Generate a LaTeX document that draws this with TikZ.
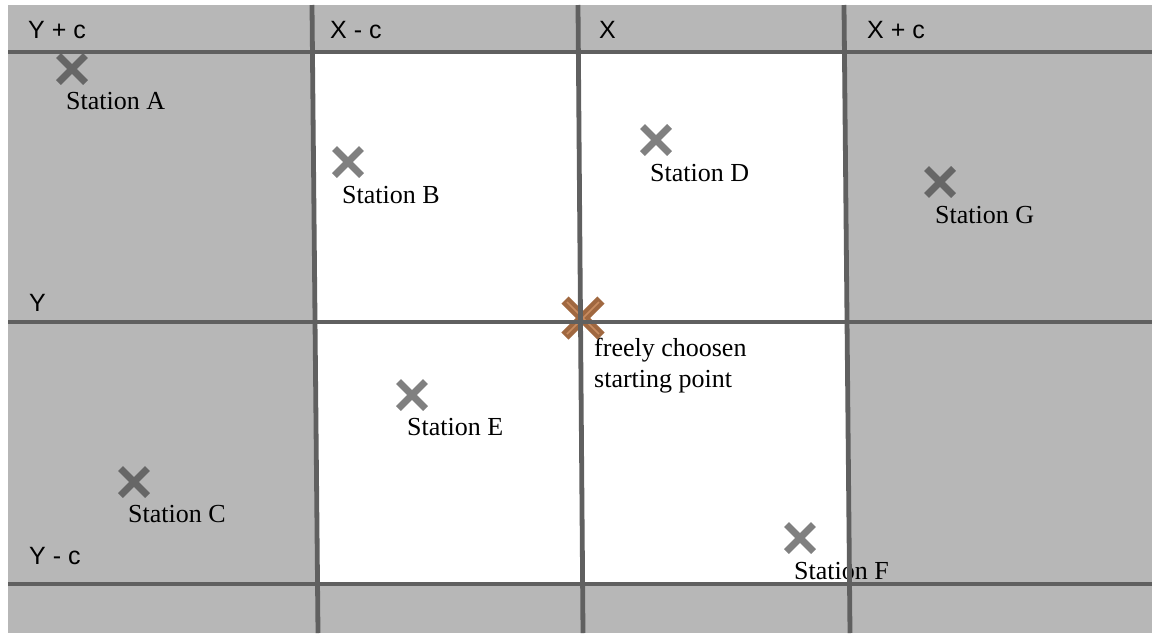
\documentclass[tikz,border=0pt]{standalone}
\usepackage{fontspec}
\setmainfont{Liberation Serif}
\newfontfamily\hdrfont{Liberation Sans}
\begin{document}
\begin{tikzpicture}[x=1pt,y=-1pt,
  cellgray/.style={fill={rgb,255:red,183;green,183;blue,183}},
  gridline/.style={draw={rgb,255:red,96;green,96;blue,96},line width=4.8pt},
  stationx/.style={draw={rgb,255:red,128;green,128;blue,128},line width=7pt},
  stationxg/.style={draw={rgb,255:red,102;green,102;blue,102},line width=7pt},
  startx/.style={draw={rgb,255:red,160;green,104;blue,64},line width=10pt},
  startxin/.style={draw={rgb,255:red,200;green,140;blue,96},line width=1.5pt},
  stlabel/.style={anchor=base west,inner sep=0pt,font=\fontsize{26}{31}\selectfont},
  hdr/.style={anchor=base west,inner sep=0pt,font=\hdrfont\fontsize{25}{30}\selectfont}]
\useasboundingbox (0,0) rectangle (1152,633);
\fill[white] (0,0) rectangle (1152,633);
\fill[cellgray] (8,5) rectangle (1152,633);
% white middle region
\fill[white] (312.7,52) -- (844.3,52) -- (849.2,584) -- (317.2,584) -- cycle;
% station crosses on white
\foreach \n/\cx/\cy in {B/348/162, D/656/140, E/412/395, F/800/538}{
  \draw[stationx] (\cx-13.5,\cy-13.5) -- (\cx+13.5,\cy+13.5);
  \draw[stationx] (\cx-13.5,\cy+13.5) -- (\cx+13.5,\cy-13.5);
}
% station crosses on grey
\foreach \n/\cx/\cy in {A/72/69, G/940/182, C/134/482}{
  \draw[stationxg] (\cx-13.5,\cy-13.5) -- (\cx+13.5,\cy+13.5);
  \draw[stationxg] (\cx-13.5,\cy+13.5) -- (\cx+13.5,\cy-13.5);
}
% starting point cross
\draw[startx] (565,300) -- (601,336);
\draw[startx] (565,336) -- (601,300);
\draw[startxin] (567,302) -- (599,334);
\draw[startxin] (567,334) -- (599,302);
% labels
\node[stlabel] (la) at (66,109) {Station A};
\node[stlabel] (lb) at (342,203) {Station B};
\node[stlabel] (ld) at (650,181) {Station D};
\node[stlabel] (lg) at (935,223) {Station G};
\node[stlabel] (le) at (407,435) {Station E};
\node[stlabel] (lc) at (128,522) {Station C};
\node[stlabel] (lf) at (794,579) {Station F};
\node[stlabel] (ls1) at (594,356) {freely choosen};
\node[stlabel] (ls2) at (594,387) {starting point};
\node[hdr] (hyc) at (28,38) {Y + c};
\node[hdr] (hxmc) at (330,38) {X - c};
\node[hdr] (hx) at (599,38) {X};
\node[hdr] (hxpc) at (867,38) {X + c};
\node[hdr] (hy) at (29,311) {Y};
\node[hdr] (hymc) at (29,564) {Y - c};
% grid lines
\draw[gridline] (8,52) -- (1152,52);
\draw[gridline] (8,322) -- (1152,322);
\draw[gridline] (8,584) -- (1152,584);
\draw[gridline] (312,5) -- (318,633);
\draw[gridline] (578,5) -- (583,633);
\draw[gridline] (844,5) -- (850,633);
\end{tikzpicture}
\end{document}
